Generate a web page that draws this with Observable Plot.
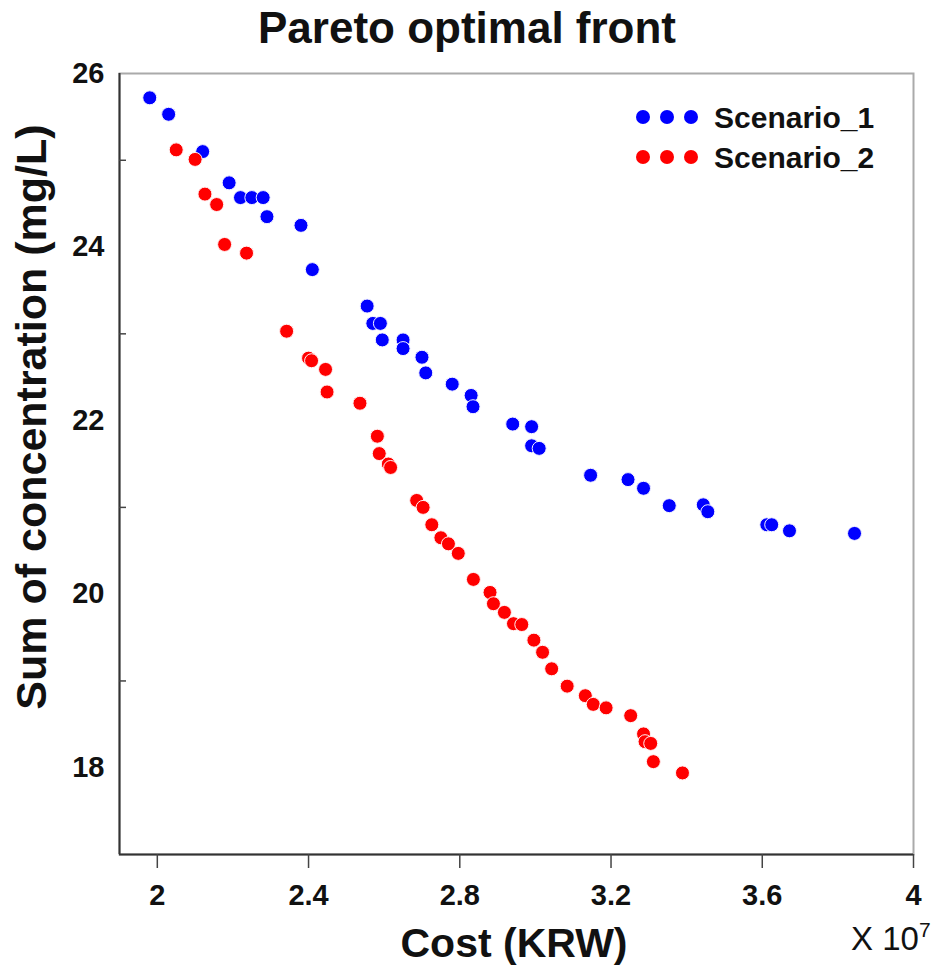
<!DOCTYPE html>
<html><head><meta charset="utf-8">
<script src="https://cdn.jsdelivr.net/npm/d3@7"></script>
<script src="https://cdn.jsdelivr.net/npm/@observablehq/plot@0.6"></script>
<style>body{margin:0;background:#fff;font-family:"Liberation Sans",Arial,sans-serif}</style>
</head><body><div id="chart"></div>
<script>
const seriesNames = ["Scenario_1", "Scenario_2"];
const seriesColors = ["#0000ff", "#ff0000"];
const s1Cost = [1.98,2.03,2.12,2.19,2.22,2.25,2.28,2.29,2.38,2.41,2.555,2.57,2.59,2.595,2.65,2.65,2.70,2.71,2.78,2.83,2.835,2.94,2.99,2.99,3.01,3.146,3.245,3.286,3.354,3.444,3.456,3.612,3.625,3.672,3.844];
const s1Conc = [25.72,25.53,25.10,24.74,24.57,24.57,24.57,24.35,24.25,23.74,23.32,23.12,23.12,22.93,22.93,22.83,22.73,22.55,22.42,22.29,22.16,21.96,21.93,21.71,21.68,21.37,21.32,21.22,21.02,21.03,20.95,20.80,20.80,20.73,20.70];
const s2Cost = [2.05,2.10,2.126,2.157,2.178,2.236,2.342,2.40,2.408,2.445,2.449,2.536,2.582,2.587,2.611,2.617,2.686,2.703,2.726,2.750,2.770,2.796,2.836,2.880,2.889,2.918,2.942,2.964,2.996,3.019,3.043,3.084,3.132,3.153,3.187,3.252,3.286,3.290,3.305,3.312,3.389];
const s2Conc = [25.12,25.01,24.61,24.49,24.03,23.93,23.03,22.72,22.69,22.59,22.33,22.20,21.82,21.62,21.50,21.46,21.08,21.00,20.80,20.65,20.58,20.47,20.17,20.02,19.89,19.79,19.66,19.65,19.47,19.33,19.14,18.94,18.83,18.73,18.69,18.60,18.39,18.30,18.28,18.07,17.94];
const xTicks = [2, 2.4, 2.8, 3.2, 3.6, 4];
const yTicks = [18, 20, 22, 24, 26];
const yMinorTicks = [17, 19, 21, 23, 25];
const xDomain = [1.9, 4];
const yDomain = [17, 26];

const s1 = s1Cost.map((c, i) => ({cost: c, conc: s1Conc[i], s: seriesNames[0]}));
const s2 = s2Cost.map((c, i) => ({cost: c, conc: s2Conc[i], s: seriesNames[1]}));

const FONT = "Liberation Sans, Arial, sans-serif";
const plot = Plot.plot({
  width: 947, height: 974,
  marginLeft: 119, marginRight: 34, marginTop: 73, marginBottom: 120,
  style: {fontFamily: FONT, background: "#fff", color: "#111"},
  x: {domain: xDomain},
  y: {domain: yDomain},
  color: {domain: seriesNames, range: seriesColors},
  marks: [
    Plot.frame({stroke: "#aaa", strokeWidth: 2}),
    Plot.ruleY([yDomain[0]], {stroke: "#333", strokeWidth: 2}),
    Plot.ruleX([xDomain[0]], {stroke: "#333", strokeWidth: 2}),
    Plot.axisX({ticks: xTicks, tickSize: 14, tickPadding: 16, tickFormat: d => String(d), fontSize: 29, fontWeight: "bold", label: null, stroke: "#444", strokeWidth: 1.5}),
    Plot.axisY({ticks: yTicks, tickSize: 0, tickPadding: 15, fontSize: 29, fontWeight: "bold", label: null}),
    Plot.axisY({ticks: yMinorTicks.slice(1), tickSize: -7, text: null, label: null, stroke: "#444", strokeWidth: 1.5}),
    Plot.dot(s1, {x: "cost", y: "conc", fill: "s", r: 7, stroke: "#f4f4ff", strokeWidth: 1}),
    Plot.dot(s2, {x: "cost", y: "conc", fill: "s", r: 7, stroke: "#fff4f4", strokeWidth: 1})
  ]
});
document.getElementById("chart").append(plot);

const svg = d3.select(plot);
svg.append("text").attr("x", 467).attr("y", 43).attr("text-anchor", "middle")
  .attr("font-family", FONT).attr("font-weight", "bold").attr("font-size", 44).attr("fill", "#111")
  .text("Pareto optimal front");
svg.append("text").attr("transform", "translate(46,417) rotate(-90)").attr("text-anchor", "middle")
  .attr("font-family", FONT).attr("font-weight", "bold").attr("font-size", 43).attr("fill", "#111")
  .text("Sum of concentration (mg/L)");
svg.append("text").attr("x", 514).attr("y", 957).attr("text-anchor", "middle")
  .attr("font-family", FONT).attr("font-weight", "bold").attr("font-size", 41).attr("fill", "#111")
  .text("Cost (KRW)");
const sci = svg.append("text").attr("x", 851).attr("y", 950).attr("text-anchor", "start")
  .attr("font-family", FONT).attr("font-size", 33).attr("fill", "#111");
sci.append("tspan").text("X 10");
sci.append("tspan").attr("dy", -13).attr("font-size", 21).text("7");

seriesNames.forEach((name, i) => {
  const cy = 117 + i * 40;
  [643, 667, 691].forEach(cx => {
    svg.append("circle").attr("cx", cx).attr("cy", cy).attr("r", 7).attr("fill", seriesColors[i]);
  });
  svg.append("text").attr("x", 714).attr("y", cy + 11).attr("text-anchor", "start")
    .attr("font-family", FONT).attr("font-weight", "bold").attr("font-size", 30).attr("fill", "#111")
    .text(name);
});
</script></body></html>
